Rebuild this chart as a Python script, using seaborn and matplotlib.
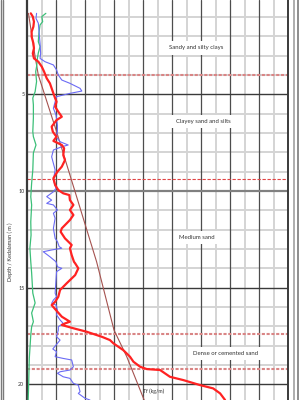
import matplotlib
matplotlib.use("Agg")
import matplotlib.pyplot as plt
from matplotlib.lines import Line2D
import seaborn as sns
import pandas as pd

# ---- data (depth in m, value in chart units) ----
red_depth = [0.81, 0.98, 1.24, 1.50, 1.76, 2.02, 2.36, 2.62, 2.88, 3.14, 3.31, 3.57, 3.83, 4.17, 4.43,
             4.69, 4.95, 5.20, 5.38, 5.64, 5.90, 6.16, 6.33, 6.67, 6.93, 7.10, 7.19, 7.41, 7.62, 7.79,
             8.14, 8.40, 8.74, 9.00, 9.34, 9.69, 9.95, 10.12, 10.21, 10.47, 10.72, 10.98, 11.24, 11.50,
             11.93, 12.11, 12.45, 12.79, 12.96, 13.31, 13.66, 13.74, 14.00, 14.35, 14.77, 15.12, 15.47,
             15.73, 15.90, 16.16, 16.50, 16.76, 16.85, 16.93, 17.10, 17.28, 17.54, 17.71, 17.88, 18.23,
             18.57, 18.83, 19.09, 19.21, 19.26, 19.61, 19.78, 20.04, 20.21, 20.47, 20.81]
red_value = [0.13, 0.20, 0.24, 0.22, 0.16, 0.16, 0.22, 0.24, 0.20, 0.24, 0.39, 0.51, 0.59, 0.68, 0.79,
             0.85, 0.91, 0.97, 1.02, 0.97, 1.08, 1.20, 1.02, 0.85, 0.89, 0.97, 1.02, 0.91, 1.20, 1.28,
             1.25, 1.31, 1.20, 1.05, 0.91, 0.97, 1.08, 1.25, 1.46, 1.48, 1.60, 1.48, 1.60, 1.48,
             1.20, 1.16, 1.31, 1.54, 1.48, 1.54, 1.62, 1.66, 1.77, 1.66, 1.37, 1.14, 1.08,
             0.97, 0.85, 1.00, 1.20, 1.48, 1.31, 1.20, 1.60, 2.06, 2.58, 2.86, 2.98, 3.32,
             3.55, 3.67, 3.90, 4.13, 4.59, 4.93, 5.39, 5.97, 6.42, 6.66, 6.83]

blue_depth = [0.81, 1.07, 1.32, 1.84, 2.36, 2.88, 3.14, 3.31, 3.48, 3.74, 4.00, 4.26, 4.43, 4.69, 4.83,
              4.95, 5.12, 5.38, 5.72, 6.07, 6.59, 6.93, 7.19, 7.45, 7.62, 7.71, 7.88, 8.23, 8.57, 8.91,
              9.43, 9.86, 10.04, 10.29, 10.47, 10.64, 10.72, 10.98, 11.15, 11.41, 11.93, 12.45, 12.62,
              12.88, 12.96, 13.05, 13.14, 13.40, 13.66, 13.92, 14.00, 14.17, 14.60, 15.29, 15.47, 15.64,
              15.81, 15.90, 16.16, 16.41, 16.67, 16.85, 17.02, 17.19, 17.54, 17.71, 17.97, 18.17, 18.31,
              18.57, 18.66, 18.74, 19.09, 19.26, 19.35, 19.43, 19.61, 19.69, 19.95, 20.04, 20.38, 20.47,
              20.72, 20.81]
blue_value = [0.33, 0.31, 0.39, 0.42, 0.45, 0.47, 0.45, 0.62, 0.91, 1.02, 1.08, 1.20, 1.48, 1.83, 1.89,
              1.48, 1.02, 0.97, 0.91, 1.00, 1.05, 1.05, 1.00, 1.14, 1.42, 1.20, 0.91, 0.85, 0.91, 0.97,
              0.91, 1.00, 0.91, 0.68, 0.85, 0.68, 0.91, 1.05, 0.91, 0.97, 0.91, 0.97, 1.05,
              1.11, 1.20, 0.85, 0.56, 0.79, 1.00, 1.05, 1.20, 1.02, 1.00, 0.97, 1.02, 0.91,
              0.85, 1.00, 1.05, 1.02, 1.14, 1.25, 1.08, 1.08, 1.02, 1.14, 1.00, 0.89, 1.02,
              0.97, 1.25, 1.54, 1.60, 1.48, 1.14, 1.05, 1.25, 1.48, 1.60, 1.77, 1.83, 1.77,
              2.00, 2.17]

green_depth = [0.81, 0.98, 1.24, 1.41, 1.84, 2.28, 2.53, 2.86, 3.12, 3.57, 3.83, 4.34, 4.86, 5.19, 5.55,
               6.22, 6.93, 7.19, 7.62, 8.03, 8.91, 9.59, 10.30, 10.72, 11.59, 12.28, 12.95, 13.66, 14.24,
               15.28, 15.79, 16.31, 16.76, 17.02, 17.45, 18.64, 20.38, 20.81]
green_value = [0.65, 0.51, 0.54, 0.45, 0.41, 0.39, 0.45, 0.39, 0.36, 0.33, 0.30, 0.33, 0.28, 0.20, 0.22,
               0.22, 0.20, 0.22, 0.31, 0.22, 0.20, 0.16, 0.13, 0.16, 0.13, 0.14, 0.10, 0.13, 0.16,
               0.20, 0.28, 0.16, 0.22, 0.16, 0.13, 0.08, 0.05, 0.04]

brown_depth = [0.81, 3.05, 4.00, 6.93, 10.29, 13.66, 17.19, 18.57, 20.81]
brown_value = [0.05, 0.28, 0.39, 1.02, 1.71, 2.40, 3.00, 3.44, 4.04]

layer_bounds = [4.0, 9.38, 17.38, 19.2]
layer_names = ["Sandy and silty clays", "Clayey sand and silts", "Medium sand", "Dense or cemented sand"]
layer_label_x = [5.85, 6.07, 5.85, 6.85]
layer_label_depth = [2.6, 6.4, 12.4, 18.4]
major_ticks = [5, 10, 15, 20]
ylabel = "Depth / Kedalaman ( m )"
curve_label = "Tf (kg/m)"

sns.set_style("white")
plt.rcParams["font.family"] = ["Lato", "DejaVu Sans"]
fig = plt.figure(figsize=(3, 4), dpi=100)
ax = fig.add_axes([27 / 300, 0, 261 / 300, 1])

ax.set_xlim(0, 9)
ax.set_ylim(20.81, 0.12)

# grid
for v in [i * 0.5 for i in range(1, 18) if i % 2 == 1]:
    ax.axvline(v, color="#d4d4d4", lw=1.4, zorder=0)
for v in range(1, 9):
    ax.axvline(v, color="#4d4d4d", lw=0.9, zorder=0.5)
for d in range(1, 21):
    if d % 5:
        ax.axhline(d, color="#d4d4d4", lw=1.4, zorder=0)
for d in major_ticks:
    ax.axhline(d, color="#808080" if d == 10 else "#3a3a3a", lw=1.6 if d == 10 else 1.0, zorder=0.6)

# layer boundaries
for i, b in enumerate(layer_bounds):
    if i == 1:
        ax.axhline(b, color="#e04545", lw=0.8, ls=(0, (3, 1.5)), zorder=1)
    else:
        ax.axhline(b, color="#d98585", lw=1.5, ls=(0, (1.5, 0.8)), zorder=1)

# curves
df_b = pd.DataFrame({"d": brown_depth, "v": brown_value})
df_g = pd.DataFrame({"d": green_depth, "v": green_value})
df_bl = pd.DataFrame({"d": blue_depth, "v": blue_value})
df_r = pd.DataFrame({"d": red_depth, "v": red_value})
sns.lineplot(data=df_b, x="v", y="d", sort=False, estimator=None, color="#a5524f", lw=0.8, ax=ax, zorder=3)
sns.lineplot(data=df_g, x="v", y="d", sort=False, estimator=None, color="#3cbf78", lw=0.9, ax=ax, zorder=3)
sns.lineplot(data=df_bl, x="v", y="d", sort=False, estimator=None, color="#6b6bf5", lw=0.8, ax=ax, zorder=4)
sns.lineplot(data=df_r, x="v", y="d", sort=False, estimator=None, color="#ff2222", lw=1.6, ax=ax, zorder=5)

# layer labels
for x, d, t in zip(layer_label_x, layer_label_depth, layer_names):
    ax.text(x, d, t, ha="center", va="center", fontsize=4.3, color="#333333", zorder=6,
            bbox=dict(boxstyle="square,pad=0.7", fc="white", ec="none"))
ax.text(4.0, 20.35, curve_label, ha="left", va="center", fontsize=3.8, color="#333333", zorder=6)

ax.set_xticks([])
ax.set_yticks(major_ticks)
ax.set_yticklabels([str(t) for t in major_ticks], fontsize=3.8, color="#333333")
ax.tick_params(axis="y", length=0, pad=2)
ax.set_xlabel("")
ax.set_ylabel("")
for s in ["top", "bottom"]:
    ax.spines[s].set_visible(False)
ax.spines["left"].set_color("#3a3a3a")
ax.spines["left"].set_linewidth(1.6)
ax.spines["right"].set_color("#3a3a3a")
ax.spines["right"].set_linewidth(1.4)

fig.text(10 / 300, 1 - 252 / 400, ylabel, rotation=90, ha="center", va="center",
         fontsize=4.0, color="#333333")

# outer frame lines
for xp, c, w in [(0.6, "#7a7a7a", 1.0), (3.0, "#7a7a7a", 1.0), (293.5, "#a0a0a0", 1.2), (297.5, "#7a7a7a", 1.2)]:
    fig.add_artist(Line2D([xp / 300, xp / 300], [0, 1], color=c, lw=w, transform=fig.transFigure))

fig.savefig("out.png", dpi=100)
